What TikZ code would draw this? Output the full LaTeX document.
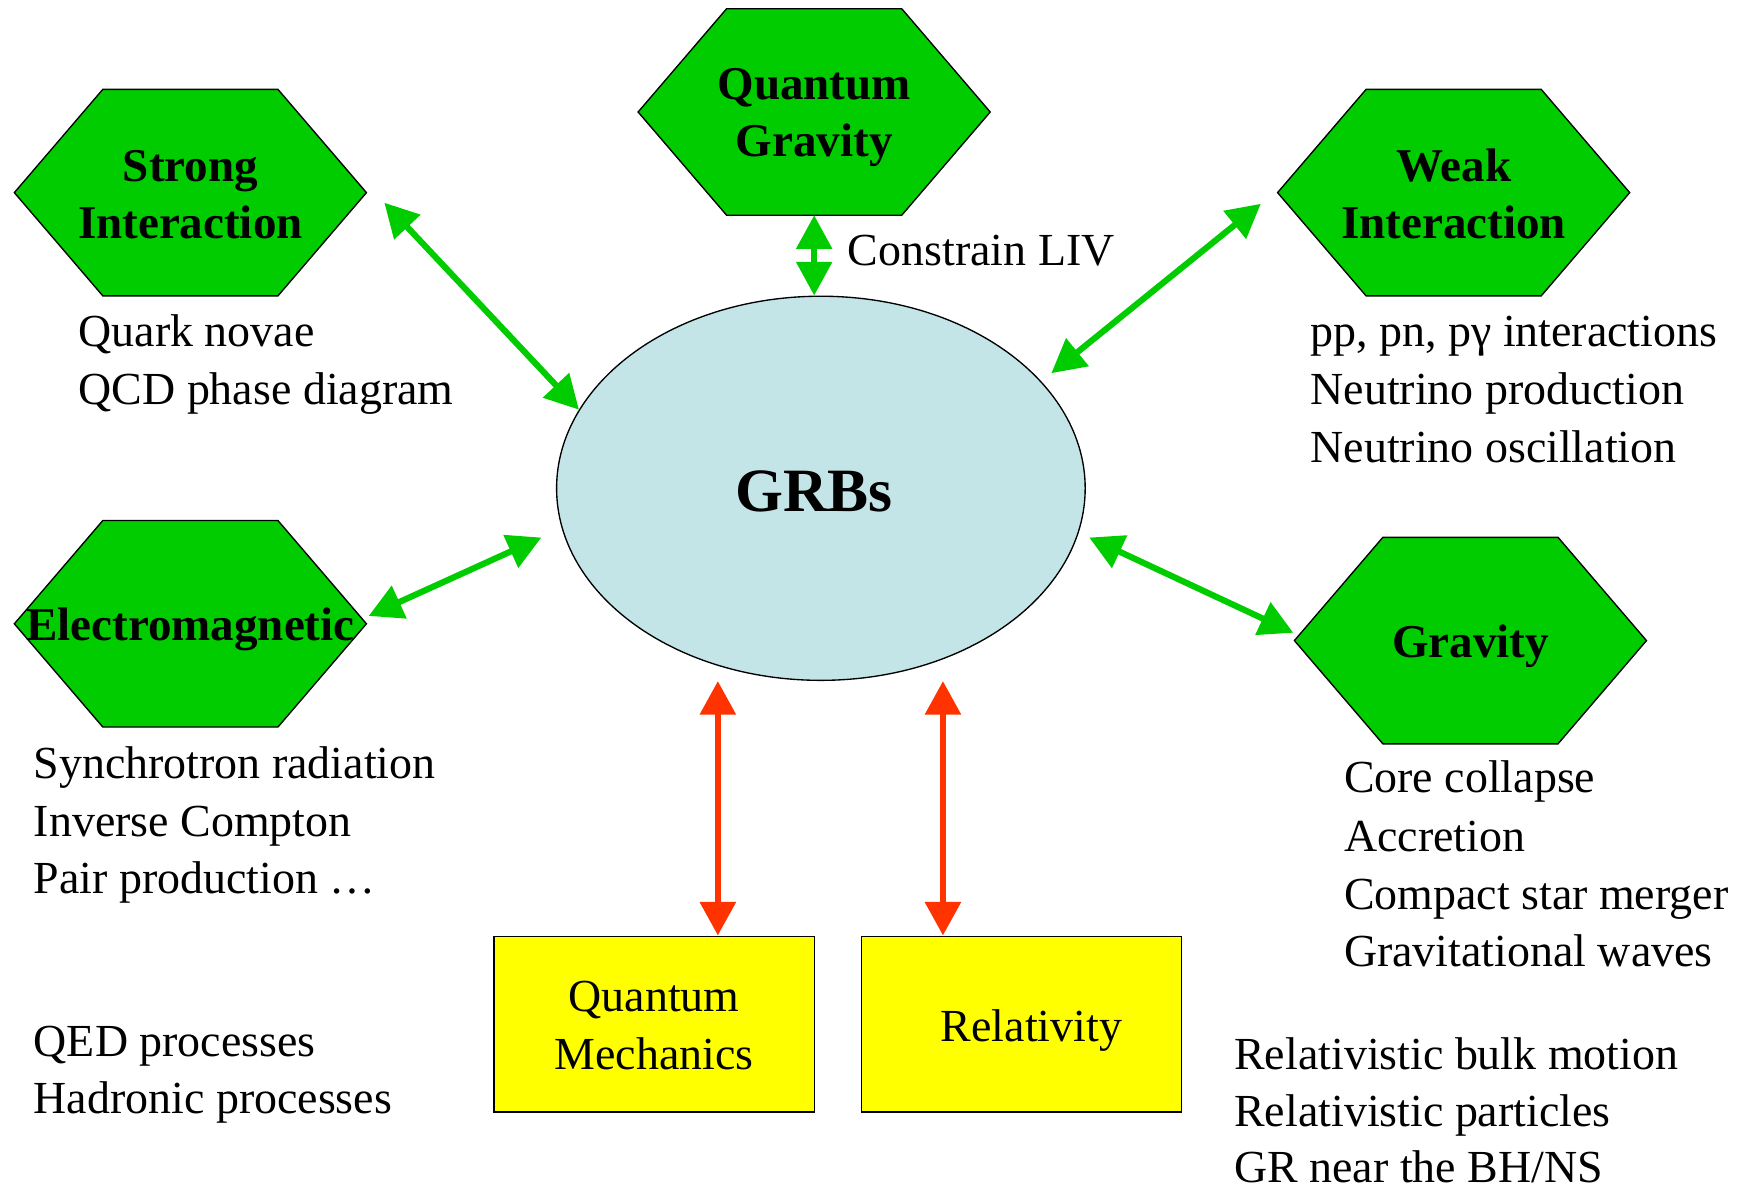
\documentclass[tikz,border=0pt]{standalone}
\usepackage{fontspec}
\setmainfont{Liberation Serif}
\usetikzlibrary{arrows.meta,shapes.geometric,calc}
\definecolor{hexgreen}{RGB}{0,204,0}
\definecolor{linkgreen}{RGB}{0,204,0}
\definecolor{linkred}{RGB}{255,51,0}
\definecolor{boxyellow}{RGB}{255,255,0}
\definecolor{grbblue}{RGB}{196,229,232}
\pgfdeclarelayer{bg}
\pgfsetlayers{bg,main}
% lower a line of text without changing its box
\newcommand{\lowerby}[2]{\raisebox{-#1}[\height][\depth]{#2}}

\begin{document}
\begin{tikzpicture}[x=1pt,y=-1pt,
  hexlabel/.style={minimum width=314pt,minimum height=184pt,inner sep=0pt,
    align=center,font=\fontsize{42}{51}\selectfont\bfseries},
  hexfill/.style={fill=hexgreen,draw=black,line width=1.2pt,line join=miter},
  plain/.style={anchor=base west,inner sep=0pt,font=\fontsize{41}{52}\selectfont},
  boxnode/.style={draw=black,line width=1.2pt,fill=boxyellow,minimum width=286pt,
    minimum height=157pt,inner sep=0pt,align=center,font=\fontsize{41}{52}\selectfont},
  glink/.style={draw=linkgreen,line width=5.5pt,
    {Triangle[length=30pt,width=31pt]}-{Triangle[length=30pt,width=31pt]}},
  rlink/.style={draw=linkred,line width=6pt,
    {Triangle[length=30pt,width=31pt]}-{Triangle[length=30pt,width=31pt]}}
]
\useasboundingbox (0,0) rectangle (1568,1063);

% central ellipse
\node[ellipse,draw=black,line width=1.2pt,fill=grbblue,minimum width=472pt,
  minimum height=343pt,inner sep=0pt,font=\fontsize{55}{60}\selectfont\bfseries]
  (grb) at (733,436) {\hspace*{-12pt}\lowerby{3pt}{GRBs}};

% interaction hexagons (labels; outlines are drawn on the background layer)
\node[hexlabel] (strong) at (170,172) {\lowerby{2pt}{Strong}\\\lowerby{2pt}{Interaction}};
\node[hexlabel] (qg)     at (727,100) {\lowerby{5pt}{Quantum}\\\lowerby{5pt}{Gravity}};
\node[hexlabel] (weak)   at (1298,172) {\lowerby{1pt}{Weak}\\\lowerby{1pt}{Interaction}};
\node[hexlabel] (em)     at (170,557) {\lowerby{5pt}{Electromagnetic}};
\node[hexlabel] (grav)   at (1313,572) {\lowerby{5pt}{Gravity}};

\begin{pgfonlayer}{bg}
\foreach \n in {strong,qg,weak,em,grav}
  \path[hexfill] (\n.west) -- ([xshift=79pt]\n.north west) -- ([xshift=-79pt]\n.north east)
    -- (\n.east) -- ([xshift=-79pt]\n.south east) -- ([xshift=79pt]\n.south west) -- cycle;
\end{pgfonlayer}

% theory boxes
\node[boxnode] (qm)  at (584,914.5) {\lowerby{1pt}{Quantum}\\\lowerby{1pt}{Mechanics}};
\node[boxnode] (rel) at (912,914.5) {\hspace*{18pt}\lowerby{6pt}{Relativity}};

% green links
\draw[glink] ($(strong.east)+(16,9)$) -- (grb.162);
\draw[glink] (qg.south) -- (qg.south |- grb.north);
\draw[glink] ($(weak.west)+(-15,10)$) -- ($(grb.27)+(12,-4)$);
\draw[glink] ($(em.east)+(2,-7)$) -- ($(grb.west)+(-13,44)$);
\draw[glink] ($(grb.east)+(3,44)$) -- ($(grav.west)+(-1,-7)$);

% red links
\coordinate (qmup) at ($(qm.north)+(57,0)$);
\coordinate (relup) at ($(rel.north)+(-70,0)$);
\draw[rlink] (qmup |- grb.south) -- (qmup);
\draw[rlink] (relup |- grb.south) -- (relup);

% annotations
\node[plain] (sa) at (70,309) {Quark novae};
\node[plain] (sb) at (70,361) {QCD phase diagram};
\node[plain] (liv) at (757,237) {Constrain LIV};
\node[plain] (wa) at (1170,309) {pp, pn, pγ interactions};
\node[plain] (wb) at (1170,361) {Neutrino production};
\node[plain] (wc) at (1170,413) {Neutrino oscillation};
\node[plain] (ea) at (30,695) {Synchrotron radiation};
\node[plain] (eb) at (30,747) {Inverse Compton};
\node[plain] (ec) at (30,798) {Pair production …};
\node[plain] (qa) at (30,943) {QED processes};
\node[plain] (qb) at (30,994) {Hadronic processes};
\node[plain] (ga) at (1200,708) {Core collapse};
\node[plain] (gb) at (1200,760) {Accretion};
\node[plain] (gc) at (1200,812) {Compact star merger};
\node[plain] (gd) at (1200,863) {Gravitational waves};
\node[plain] (ra) at (1102,955) {Relativistic bulk motion};
\node[plain] (rb) at (1102,1006) {Relativistic particles};
\node[plain] (rc) at (1102,1056) {GR near the BH/NS};
\end{tikzpicture}
\end{document}
